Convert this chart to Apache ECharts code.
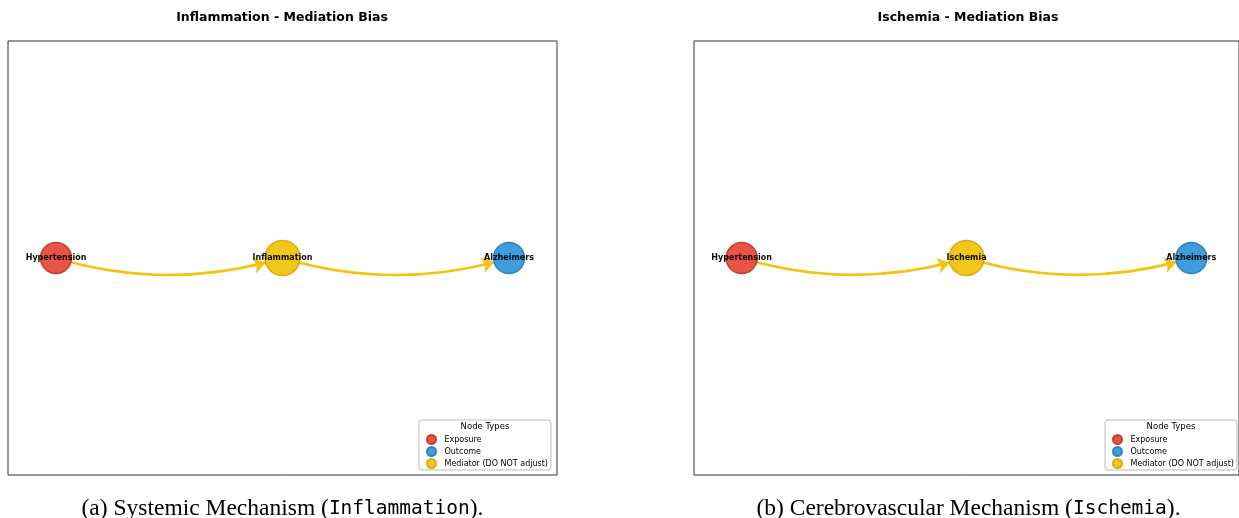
<!DOCTYPE html>
<html>
<head>
<meta charset="utf-8">
<script src="https://cdn.jsdelivr.net/npm/echarts@6/dist/echarts.min.js"></script>
<style>
html,body{margin:0;padding:0;background:#fff;}
#chart{width:1239px;height:518px;}
</style>
</head>
<body>
<div id="chart"></div>
<script>
// ---- data ----
const panelTitles = ['Inflammation - Mediation Bias', 'Ischemia - Mediation Bias'];
const captionLabels = ['(a)', '(b)'];
const captionTexts = ['Systemic Mechanism', 'Cerebrovascular Mechanism'];
const captionCodes = ['Inflammation', 'Ischemia'];
const nodesA = ['Hypertension', 'Inflammation', 'Alzheimers'];
const nodesB = ['Hypertension', 'Ischemia', 'Alzheimers'];
const nodeX = [0, 1, 2];
const nodeY = [0, 0, 0];
const nodeTypeIdx = [0, 2, 1]; // Exposure, Mediator, Outcome
const nodeTypes = ['Exposure', 'Outcome', 'Mediator (DO NOT adjust)'];
const edgesIdx = [[0, 1], [1, 2]];
const legendTitle = 'Node Types';

// ---- styles ----
const typeColors = ['#e74c3c', '#3498db', '#f1c40f'];
const typeBorders = ['#c0392b', '#2a7fba', '#d4ac0d'];
const edgeColor = '#f1c40f';
const panelLeft = [8, 694];
const panelTop = 41, panelW = 549, panelH = 434;
const legLeft = 411, legTop = 420;

const chart = echarts.init(document.getElementById('chart'), null, {renderer: 'canvas'});

function buildSeries(names, p) {
  return {
    type: 'graph',
    coordinateSystem: 'cartesian2d',
    xAxisIndex: p, yAxisIndex: p,
    categories: nodeTypes.map((t, i) => ({
      name: t,
      itemStyle: {color: typeColors[i], borderColor: typeBorders[i], borderWidth: 1.5, opacity: 0.95}
    })),
    data: names.map((n, i) => ({
      name: n,
      value: [nodeX[i], nodeY[i]],
      category: nodeTypeIdx[i],
      symbolSize: nodeTypeIdx[i] === 2 ? 35 : 31
    })),
    links: edgesIdx.map(e => ({source: names[e[0]], target: names[e[1]]})),
    edgeSymbol: ['none', 'arrow'],
    edgeSymbolSize: [4, 12],
    lineStyle: {color: edgeColor, width: 2.7, curveness: -0.15, opacity: 1},
    label: {show: true, position: 'inside', color: '#000', fontWeight: 'bold',
            fontSize: 8, fontFamily: 'DejaVu Sans'},
    emphasis: {disabled: true},
    z: 3
  };
}

const option = {
  animation: false,
  grid: panelLeft.map(l => ({left: l, top: panelTop, width: panelW, height: panelH,
    show: true, borderColor: '#333', borderWidth: 1, backgroundColor: '#fff'})),
  xAxis: panelLeft.map((l, i) => ({type: 'value', gridIndex: i, min: -0.212, max: 2.212, show: false})),
  yAxis: panelLeft.map((l, i) => ({type: 'value', gridIndex: i, min: -1, max: 1, show: false})),
  legend: panelLeft.map((l, i) => ({
    data: nodeTypes,
    orient: 'vertical',
    left: l + legLeft, top: legTop,
    padding: [14, 3, 1, 7],
    itemWidth: 16, itemHeight: 9, itemGap: 1,
    icon: 'circle',
    textStyle: {fontSize: 8, lineHeight: 9, fontFamily: 'DejaVu Sans', color: '#000'},
    backgroundColor: '#fff', borderColor: '#bbb', borderWidth: 1, borderRadius: 3,
    selectedMode: false
  })),
  series: [buildSeries(nodesA, 0), buildSeries(nodesB, 1)],
  graphic: [].concat(
    panelLeft.map((l, i) => ({
      type: 'text', x: l + panelW / 2 - 0.5, y: 18,
      style: {text: panelTitles[i], font: 'bold 12.5px "DejaVu Sans"', fill: '#000',
              align: 'center', verticalAlign: 'middle'}
    })),
    panelLeft.map((l, i) => ({
      type: 'text', x: l + legLeft + 66, y: 427, z: 10,
      style: {text: legendTitle, font: '8.5px "DejaVu Sans"', fill: '#000',
              align: 'center', verticalAlign: 'middle'}
    })),
    panelLeft.map((l, i) => ({
      type: 'text', x: l + panelW / 2, y: 509,
      style: {
        text: '{s|' + captionLabels[i] + ' ' + captionTexts[i] + ' (}{m|' + captionCodes[i] + '}{s|).}',
        align: 'center', verticalAlign: 'middle',
        rich: {
          s: {fontFamily: '"Liberation Serif", "DejaVu Serif", serif', fontSize: 23.5, fill: '#000'},
          m: {fontFamily: '"DejaVu Sans Mono", "Liberation Mono", monospace', fontSize: 19.5, fill: '#000'}
        }
      }
    }))
  )
};
chart.setOption(option);
</script>
</body>
</html>
